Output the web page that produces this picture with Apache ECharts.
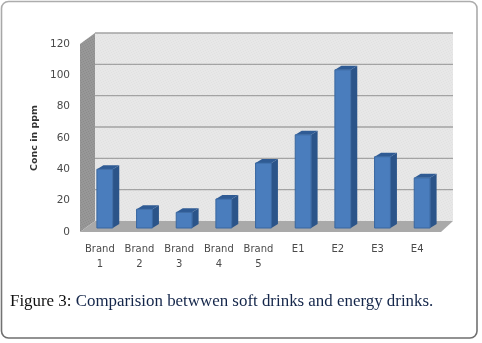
<!DOCTYPE html>
<html>
<head>
<meta charset="utf-8">
<style>html,body{margin:0;padding:0;background:#fff}#c{width:482px;height:343px}</style>
<script src="https://cdn.jsdelivr.net/npm/echarts@6/dist/echarts.min.js"></script>
</head>
<body>
<div id="c"></div>
<script>
const categories = ['Brand\n1', 'Brand\n2', 'Brand\n3', 'Brand\n4', 'Brand\n5', 'E1', 'E2', 'E3', 'E4'];
const concentration = [37.5, 12, 10, 18.5, 41.5, 59.5, 101, 45.5, 32];
const gridTicks = [20, 40, 60, 80, 100, 120];
const yAxisTitle = 'Conc in ppm';
const captionLead = 'Figure 3:';
const captionBody = ' Comparision betwwen soft drinks and energy drinks.';

function makePattern(a, b) {
  const cv = document.createElement('canvas');
  cv.width = 5; cv.height = 5;
  const g = cv.getContext('2d');
  g.fillStyle = a; g.fillRect(0, 0, 5, 5);
  g.fillStyle = b;
  g.fillRect(0, 0, 1, 1); g.fillRect(3, 1, 1, 1); g.fillRect(1, 2, 1, 1); g.fillRect(4, 3, 1, 1); g.fillRect(2, 4, 1, 1);
  return { image: cv, repeat: 'repeat' };
}
const wallFill = makePattern('#e7e7e7', '#e0e0e0');
const sideFill = makePattern('#979797', '#8b8b8b');

const depthL = 15, depthR = 16, depthY = 11, floorExtra = 4;
const barDx = 5, barDy = 4, sideX = 6.5, sideY = 4;

function renderWalls(params, api) {
  const c = params.coordSys;
  const x0 = c.x, x1 = c.x + c.width, y0 = c.y, y1 = c.y + c.height;
  return {
    type: 'group',
    children: [
      { type: 'polygon', shape: { points: [[x0 + depthL, y0 - depthY], [x1 + depthR, y0 - depthY], [x1 + depthR, y1 - depthY], [x0 + depthL, y1 - depthY]] }, style: { fill: wallFill } },
      { type: 'polygon', shape: { points: [[x0, y0], [x0 + depthL, y0 - depthY], [x0 + depthL, y1 - depthY], [x0, y1]] }, style: { fill: sideFill } },
      { type: 'polygon', shape: { points: [[x0, y1], [x0 + depthL, y1 - depthY], [x1 + depthR, y1 - depthY], [x1 + floorExtra, y1]] }, style: { fill: '#a9a9a9' } }
    ]
  };
}
function renderGridLine(params, api) {
  const c = params.coordSys;
  const y = api.coord([0, api.value(0)])[1] - depthY;
  return { type: 'line', shape: { x1: c.x + depthL, y1: y, x2: c.x + c.width + depthR, y2: y }, style: { stroke: '#a3a3a3', lineWidth: 1.4 } };
}
function renderBar(params, api) {
  const top = api.coord([api.value(0), api.value(1)]);
  const base = api.coord([api.value(0), 0]);
  const w = api.size([1, 0])[0] * 0.4;
  const l = top[0] - w / 2 + barDx, r = l + w, t = top[1] - barDy, b = base[1] - barDy;
  return {
    type: 'group',
    children: [
      { type: 'polygon', shape: { points: [[r, t], [r + sideX, t - sideY], [r + sideX, b - sideY], [r, b]] }, style: { fill: '#2b5489' } },
      { type: 'polygon', shape: { points: [[l, t], [l + sideX, t - sideY], [r + sideX, t - sideY], [r, t]] }, style: { fill: '#2f5b94' } },
      { type: 'rect', shape: { x: l, y: t, width: w, height: b - t }, style: { fill: '#4a7dbd', stroke: '#38669f', lineWidth: 1 } }
    ]
  };
}

const chart = echarts.init(document.getElementById('c'), null, { renderer: 'canvas' });
chart.setOption({
  animation: false,
  backgroundColor: '#fff',
  grid: { left: 80, top: 44, width: 357, height: 188 },
  xAxis: {
    type: 'category', data: categories,
    axisLine: { show: false }, axisTick: { show: false }, splitLine: { show: false },
    axisLabel: { fontFamily: 'DejaVu Sans', fontSize: 10, color: '#4a4a4a', margin: 10, lineHeight: 15, interval: 0 }
  },
  yAxis: {
    type: 'value', min: 0, max: 120, interval: 20,
    name: yAxisTitle, nameLocation: 'middle', nameGap: 30, nameRotate: 90,
    nameTextStyle: { fontFamily: 'DejaVu Sans', fontSize: 9.5, fontWeight: 'bold', color: '#333' },
    axisLine: { show: false }, axisTick: { show: false }, splitLine: { show: false },
    axisLabel: { fontFamily: 'DejaVu Sans', fontSize: 10.5, color: '#4a4a4a', margin: 10, padding: [4, 0, 0, 0] }
  },
  series: [
    { type: 'custom', renderItem: renderWalls, data: [0], z: 1, silent: true, encode: { x: 0 } },
    { type: 'custom', renderItem: renderGridLine, data: gridTicks.map(v => [v]), z: 2, silent: true, encode: { y: 0 } },
    { type: 'custom', renderItem: renderBar, data: concentration.map((v, i) => [i, v]), z: 3, encode: { x: 0, y: 1 } }
  ],
  graphic: [
    { type: 'rect', z: 0, shape: { x: 1.5, y: 1.5, width: 475.5, height: 336.5, r: 7 }, style: { fill: 'none', lineWidth: 1.6,
        stroke: { type: 'linear', x: 0, y: 0, x2: 0, y2: 1, colorStops: [{ offset: 0, color: '#adadad' }, { offset: 1, color: '#6e6e6e' }] } } },
    { type: 'text', z: 10, left: 10, top: 293, style: {
        rich: { a: { fontFamily: 'Liberation Serif', fontSize: 16.9, fill: '#111' }, b: { fontFamily: 'Liberation Serif', fontSize: 16.9, fill: '#14264a' } },
        text: '{a|' + captionLead + '}{b|' + captionBody + '}'
    } }
  ]
});
</script>
</body>
</html>
